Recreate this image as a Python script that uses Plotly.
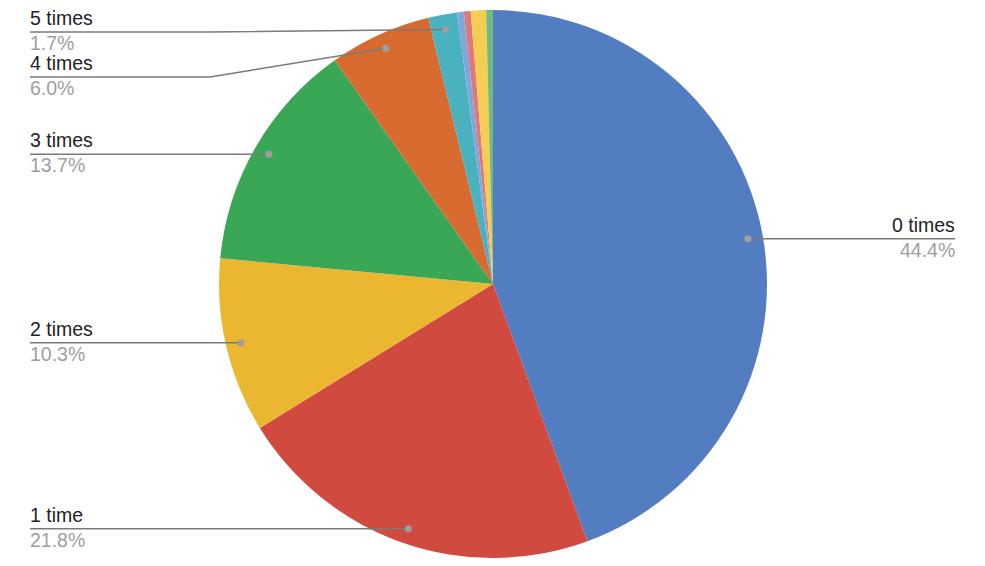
import numpy as np
import plotly.graph_objects as go

# slice values (percent), clockwise from 12 o'clock
labels = ["0 times", "1 time", "2 times", "3 times", "4 times", "5 times",
          "6 times", "7 times", "8 times", "9 times"]
values = [44.4, 21.8, 10.3, 13.7, 6.0, 1.7, 0.4, 0.4, 0.9, 0.4]
colors = ["#527dc0", "#d04a40", "#ebb731", "#3aa757", "#d76b2f", "#4ab2bf",
          "#80a6dc", "#df7878", "#f5cd55", "#70ba80"]

W, H = 985, 566
OFF = 8                      # page body margin the figure sits inside
M_L, M_R, M_T, M_B = 0, 15, 2, 16
PLOT_W = W - M_L - M_R
PLOT_H = H - M_T - M_B
# pie centre / radius in screen pixels
CX = OFF + M_L + PLOT_W / 2
CY = OFF + M_T + PLOT_H / 2
R = min(PLOT_W, PLOT_H) / 2
MIN_LABEL = 1.0   # slices below this get no callout
GAP = 45          # min vertical gap between left callouts


def px(x):
    return (x - OFF - M_L) / PLOT_W


def py(y):
    return (H - M_B - (y - OFF)) / PLOT_H


fig = go.Figure(go.Pie(
    labels=labels,
    values=values,
    sort=False,
    direction="clockwise",
    rotation=0,
    marker=dict(colors=colors, line=dict(width=0)),
    textinfo="none",
    hovertemplate="%{label}: %{percent}<extra></extra>",
    showlegend=False,
))

# callout anchor points from the slice mid-angles
vals = np.array(values)
share = vals / vals.sum()
mid = (np.cumsum(share) - share / 2) * 2 * np.pi
dot_x = CX + 0.945 * R * np.sin(mid)
dot_y = CY - 0.945 * R * np.cos(mid)

callouts = []
for i, s in enumerate(share):
    if s * 100 < MIN_LABEL:
        continue
    side = "right" if np.sin(mid[i]) > 0 else "left"
    callouts.append([i, side, dot_y[i]])

# push left labels apart, top to bottom
prev = None
for c in sorted([c for c in callouts if c[1] == "left"], key=lambda c: c[2]):
    y = max(c[2], 32)
    if prev is not None:
        y = max(y, prev + GAP)
    c[2] = y
    prev = y

shapes, annotations = [], []
for i, side, ly in callouts:
    x0, y0 = dot_x[i], dot_y[i]
    end_x = 955 if side == "right" else 30
    if abs(ly - y0) > 1:
        elbow = 210 if side == "left" else 775
        pts = [(x0, y0), (elbow, ly), (end_x, ly)]
    else:
        pts = [(x0, y0), (end_x, ly)]
    path = "M " + " L ".join(f"{px(a):.5f},{py(b):.5f}" for a, b in pts)
    shapes.append(dict(type="path", path=path, xref="paper", yref="paper",
                       line=dict(color="#7a7a7a", width=1.5)))
    shapes.append(dict(type="circle", xref="paper", yref="paper",
                       xsizemode="pixel", ysizemode="pixel",
                       xanchor=px(x0), yanchor=py(y0),
                       x0=-3.5, x1=3.5, y0=-3.5, y1=3.5,
                       fillcolor="#9e9e9e", line=dict(width=0)))
    anchor = "right" if side == "right" else "left"
    common = dict(x=px(end_x), xref="paper", yref="paper", showarrow=False,
                  xanchor=anchor, borderpad=0, borderwidth=0)
    annotations.append(dict(common, y=py(ly - 3), text=labels[i], yanchor="bottom",
                            font=dict(size=19.5, color="#222222")))
    annotations.append(dict(common, y=py(ly), text=f"{values[i]:.1f}%", yanchor="top",
                            font=dict(size=19.5, color="#9e9e9e")))

fig.update_layout(
    width=W,
    height=H,
    margin=dict(l=M_L, r=M_R, t=M_T, b=M_B, pad=0),
    paper_bgcolor="white",
    plot_bgcolor="white",
    font=dict(family="Liberation Sans, Arial, sans-serif"),
    shapes=shapes,
    annotations=annotations,
)

fig.write_html("out.html")
